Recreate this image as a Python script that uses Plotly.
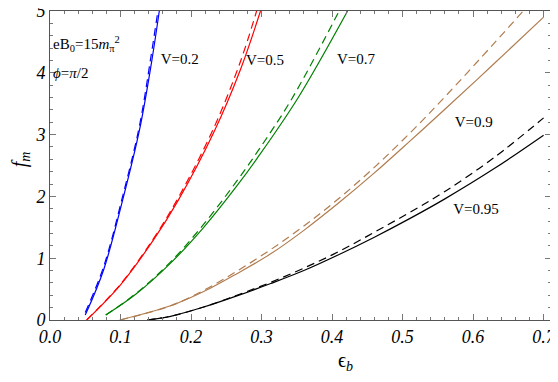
import plotly.graph_objects as go

# solid = full result, dashed = approximation
blue_x = [0.050, 0.076, 0.103, 0.127, 0.144, 0.155]
blue_y = [0.08, 0.81, 1.94, 3.08, 4.17, 5.0]
blue_dx = [0.050, 0.076, 0.103, 0.127, 0.143, 0.153]
blue_dy = [0.12, 0.86, 2.00, 3.15, 4.25, 5.0]

red_x = [0.052, 0.100, 0.147, 0.182, 0.232, 0.270, 0.2985]
red_y = [0.0, 0.57, 1.30, 1.94, 3.03, 4.05, 5.0]
red_dx = [0.052, 0.100, 0.147, 0.182, 0.232, 0.270, 0.293]
red_dy = [0.0, 0.58, 1.32, 1.98, 3.10, 4.18, 5.0]

green_x = [0.079, 0.122, 0.171, 0.218, 0.265, 0.294, 0.351, 0.422]
green_y = [0.08, 0.42, 0.92, 1.50, 2.17, 2.62, 3.58, 5.0]
green_dx = [0.079, 0.122, 0.171, 0.218, 0.265, 0.294, 0.343, 0.410]
green_dy = [0.08, 0.43, 0.94, 1.55, 2.25, 2.72, 3.58, 5.0]

brown_x = [0.099, 0.171, 0.218, 0.265, 0.313, 0.36, 0.41, 0.46, 0.51, 0.56, 0.63, 0.70]
brown_y = [0.0, 0.23, 0.46, 0.75, 1.07, 1.45, 1.90, 2.38, 2.89, 3.41, 4.15, 4.90]
brown_dx = [0.099, 0.171, 0.218, 0.265, 0.313, 0.36, 0.41, 0.46, 0.51, 0.56, 0.63, 0.671]
brown_dy = [0.0, 0.23, 0.48, 0.79, 1.14, 1.52, 1.97, 2.47, 3.02, 3.61, 4.48, 5.0]

black_x = [0.138, 0.171, 0.218, 0.265, 0.313, 0.36, 0.41, 0.46, 0.51, 0.56, 0.63, 0.70]
black_y = [0.0, 0.06, 0.21, 0.39, 0.59, 0.80, 1.06, 1.34, 1.64, 1.96, 2.45, 2.99]
black_dx = [0.138, 0.171, 0.218, 0.265, 0.313, 0.36, 0.41, 0.46, 0.51, 0.56, 0.63, 0.70]
black_dy = [0.0, 0.06, 0.21, 0.40, 0.61, 0.84, 1.11, 1.42, 1.74, 2.08, 2.63, 3.27]

labels = ['V=0.2', 'V=0.5', 'V=0.7', 'V=0.9', 'V=0.95']
label_x = [0.184, 0.305, 0.434, 0.601, 0.604]
label_y = [4.2, 4.18, 4.2, 3.19, 1.78]

x_ticks = [0.0, 0.1, 0.2, 0.3, 0.4, 0.5, 0.6, 0.7]
y_ticks = [0, 1, 2, 3, 4, 5]

curves = [
    (blue_x, blue_y, blue_dx, blue_dy, '#0000ff'),
    (red_x, red_y, red_dx, red_dy, '#ff0000'),
    (green_x, green_y, green_dx, green_dy, '#008000'),
    (brown_x, brown_y, brown_dx, brown_dy, '#b07c4f'),
    (black_x, black_y, black_dx, black_dy, '#000000'),
]

serif = 'Liberation Serif'

fig = go.Figure()

for xs, ys, dxs, dys, col in curves:
    fig.add_trace(go.Scatter(x=dxs, y=dys, mode='lines', line_shape='spline',
                             line=dict(color=col, width=1.2, dash='8px,5px'),
                             showlegend=False, hoverinfo='skip'))
    fig.add_trace(go.Scatter(x=xs, y=ys, mode='lines', line_shape='spline',
                             line=dict(color=col, width=1.2),
                             showlegend=False, hoverinfo='skip'))

fig.add_trace(go.Scatter(x=label_x, y=label_y, mode='text', text=labels,
                         textfont=dict(family=serif, size=15, color='black'),
                         showlegend=False, hoverinfo='skip'))

# parameter box, top left
fig.add_annotation(x=0.0, y=4.47, xref='x', yref='y', xanchor='left', showarrow=False,
                   xshift=1,
                   text='eB<sub>0</sub>=15<i>m</i><sub>π</sub><sup>2</sup>',
                   font=dict(family=serif, size=15, color='black'))
fig.add_annotation(x=0.0, y=4.0, xref='x', yref='y', xanchor='left', showarrow=False,
                   xshift=1,
                   text='<i>ϕ</i>=<i>π</i>/2',
                   font=dict(family=serif, size=15, color='black'))

# axis titles
fig.add_annotation(x=0.589, y=-0.135, xref='paper', yref='paper', showarrow=False,
                   xanchor='center', yanchor='middle',
                   text='ϵ<sub><i>b</i></sub>', font=dict(family=serif, size=20, color='black'))
fig.add_annotation(x=-0.06, y=0.52, xref='paper', yref='paper', showarrow=False, textangle=-90,
                   xanchor='center', yanchor='middle',
                   text='<i>f</i><sub><i>m</i></sub>', font=dict(family=serif, size=20, color='black'))

axis_common = dict(
    showline=True, linecolor='#555555', linewidth=1, mirror='allticks',
    ticks='inside', ticklen=6, tickcolor='#777777', tickwidth=1,
    showgrid=False, zeroline=False, automargin=False, ticklabeloverflow='allow',
    tickfont=dict(family=serif, size=18, color='black', style='italic'),
)

fig.update_xaxes(range=[0, 0.7105], tickvals=x_ticks, tickformat='.1f',
                 minor=dict(dtick=0.02, ticks='inside', ticklen=3, tickcolor='#777777', showgrid=False),
                 **axis_common)
fig.update_yaxes(range=[0, 5], tickvals=y_ticks,
                 minor=dict(dtick=0.2, ticks='inside', ticklen=3, tickcolor='#777777', showgrid=False),
                 **axis_common)

# the page body adds an 8px offset, so the figure is drawn 8px smaller
fig.update_layout(width=550, height=374, plot_bgcolor='white', paper_bgcolor='white',
                  margin=dict(l=42, r=7, t=3, b=62))

fig.write_html('out.html')
